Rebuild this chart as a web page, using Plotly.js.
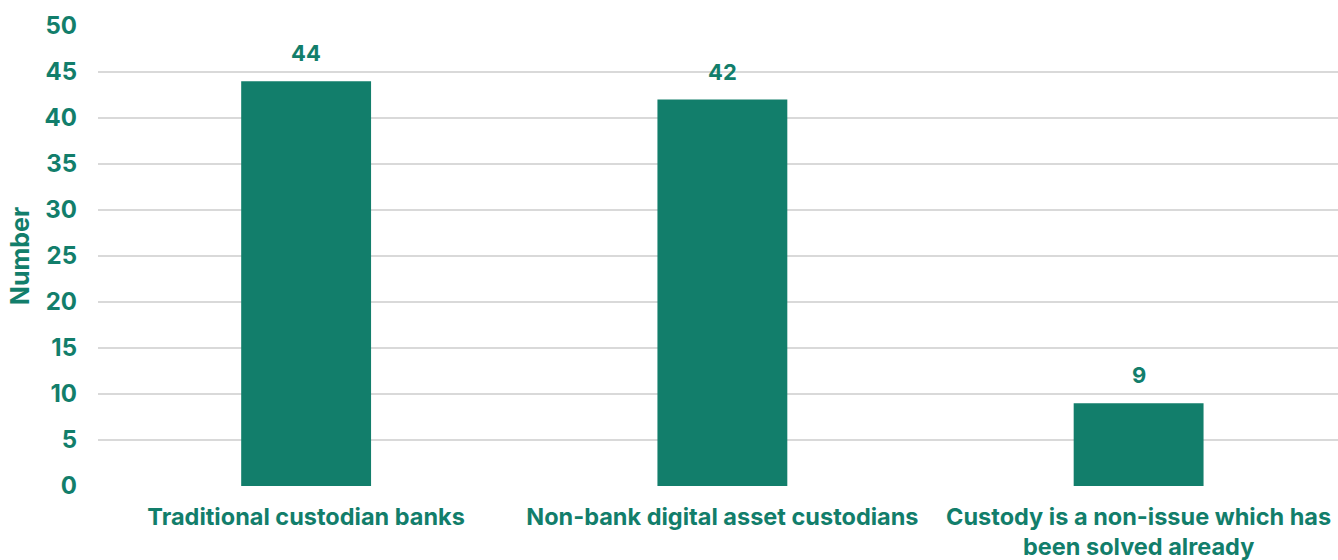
<!DOCTYPE html>
<html>
<head>
<meta charset="utf-8">
<script src="https://cdn.plot.ly/plotly-3.0.1.min.js"></script>
<style>
  html, body { margin: 0; padding: 0; background: #ffffff; overflow: hidden; }
  #chart { width: 1338px; height: 560px; }
</style>
</head>
<body>
<div id="chart"></div>
<script>
// Survey responses: preferred custodians for digital assets
const categories = [
  "Traditional custodian banks",
  "Non-bank digital asset custodians",
  "Custody is a non-issue which has<br>been solved already"
];
const counts = [44, 42, 9];
const yTickValues = [0, 5, 10, 15, 20, 25, 30, 35, 40, 45, 50];

const teal = "#127e6b";
const fontFamily = "Inter, 'DejaVu Sans', sans-serif";

const trace = {
  type: "bar",
  x: categories,
  y: counts,
  width: counts.map(() => 0.312),
  marker: { color: teal, line: { width: 0 } },
  hoverinfo: "skip"
};

// Value labels sit above each bar
const valueLabels = categories.map((c, i) => ({
  x: c,
  y: counts[i],
  xref: "x",
  yref: "y",
  text: String(counts[i]),
  showarrow: false,
  yanchor: "bottom",
  yshift: 13,
  font: { family: fontFamily, size: 22, color: teal, weight: 700 }
}));

const layout = {
  width: 1338,
  height: 560,
  margin: { l: 98, r: 0, t: 26, b: 74 },
  paper_bgcolor: "#ffffff",
  plot_bgcolor: "#ffffff",
  showlegend: false,
  xaxis: {
    type: "category",
    range: [-0.5, 2.479],
    showgrid: false,
    zeroline: false,
    showline: false,
    ticks: "",
    ticklabelstandoff: 14,
    tickfont: { family: fontFamily, size: 23.5, color: teal, weight: 700 },
    automargin: false
  },
  yaxis: {
    range: [0, 50],
    tickvals: yTickValues,
    ticktext: yTickValues.map(String),
    showgrid: true,
    gridcolor: "#d9d9d9",
    gridwidth: 1.5,
    zeroline: false,
    showline: false,
    ticks: "",
    ticklabelstandoff: 20,
    tickfont: { family: fontFamily, size: 24, color: teal, weight: 700 },
    title: {
      text: "Number",
      standoff: 7,
      font: { family: fontFamily, size: 25, color: teal, weight: 700 }
    },
    automargin: false
  },
  annotations: valueLabels
};

Plotly.newPlot("chart", [trace], layout, { displayModeBar: false, staticPlot: true });
</script>
</body>
</html>
